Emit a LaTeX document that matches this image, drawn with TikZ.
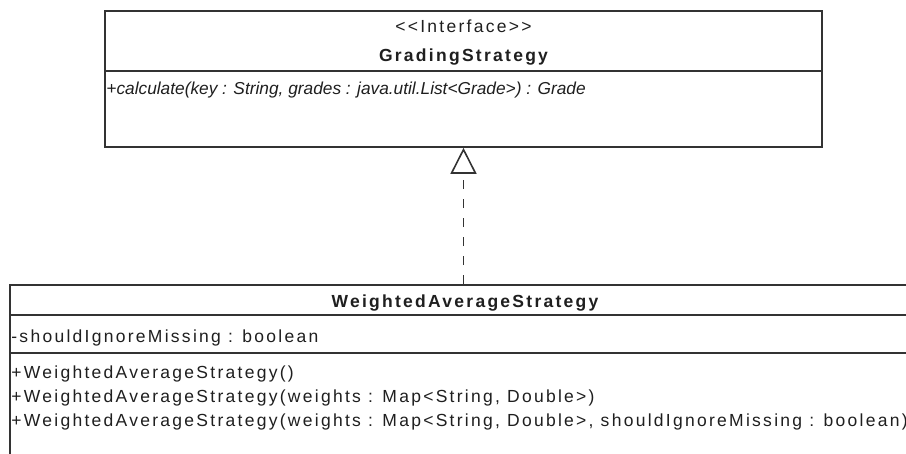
\documentclass[tikz,border=0pt]{standalone}
\usepackage{fontspec}
\setmainfont{Liberation Sans}[LetterSpace=13]
\newfontfamily\tightfont{Liberation Sans}
\usetikzlibrary{positioning, arrows.meta}
\newcommand\membersize{\fontsize{17.5}{24}\selectfont}
\colorlet{boxgray}{black!80}
\colorlet{inkgray}{black!88}
\tikzset{
    x=1pt, y=-1pt, % one unit per pixel, y runs down
    classbox/.style={draw=boxgray, line width=1.6pt, fill=white, inner sep=0pt}, % outline of a class
    divider/.style={draw=boxgray, line width=1.6pt}, % line between compartments
    member/.style={anchor=base west, inner sep=0pt, text=inkgray, font=\membersize}, % attribute or operation
    heading/.style={anchor=base, inner sep=0pt, text=inkgray, font=\membersize}, % centred text of a name compartment
    realizes/.style={draw=boxgray, line width=1.6pt, dash pattern=on 9pt off 10pt,
        -{Triangle[open, length=26pt, width=26pt]}}, % dashed line with hollow head
}

\begin{document}
\begin{tikzpicture}
    \useasboundingbox (0,0) rectangle (906,454);
    \clip (0,0) rectangle (906,454);
    % interface
    \node[classbox, minimum width=717pt, minimum height=136pt] (iface) at (463.5,79) {};
    \draw[divider] (iface.west |- 0,71) -- (iface.east |- 0,71);
    \node[heading] (ifacestereo) at (463.5,33) {<{}<Interface>{}>};
    \node[heading, font=\membersize\bfseries] (ifacename) at (463.5,62) {GradingStrategy};
    \node[member, font=\fontsize{17.3}{24}\selectfont\tightfont\itshape] (calc) at ([xshift=2pt]iface.west |- 0,95)
        {+calculate(key : String, grades : java.util.List<Grade>) : Grade};
    % implementing class
    \node[classbox, minimum width=910pt, minimum height=180pt] (strat) at (465,375) {};
    \draw[divider] (strat.west |- 0,315) -- (strat.east |- 0,315);
    \draw[divider] (strat.west |- 0,353) -- (strat.east |- 0,353);
    \node[heading, font=\membersize\bfseries] (stratname) at (465,308) {WeightedAverageStrategy};
    \node[member] (ignore) at ([xshift=2pt]strat.west |- 0,342.5) {-shouldIgnoreMissing : boolean};
    \node[member] (ctorA) at ([xshift=2pt]strat.west |- 0,379) {+WeightedAverageStrategy()};
    \node[member] (ctorB) at ([xshift=2pt]strat.west |- 0,403) {+WeightedAverageStrategy(weights : Map<String, Double>)};
    \node[member] (ctorC) at ([xshift=2pt]strat.west |- 0,427)
        {+WeightedAverageStrategy(weights : Map<String, Double>, shouldIgnoreMissing : boolean)};
    % realization
    \draw[realizes] (iface.south |- strat.north) -- (iface.south);
\end{tikzpicture}
\end{document}
